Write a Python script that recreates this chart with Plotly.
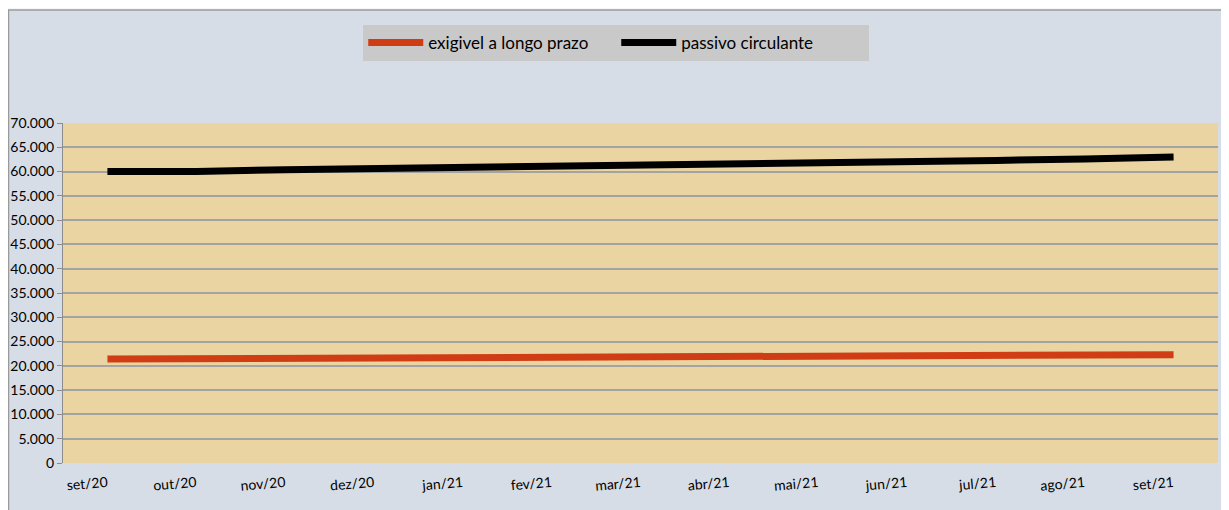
import plotly.graph_objects as go

categories = ["set/20", "out/20", "nov/20", "dez/20", "jan/21", "fev/21", "mar/21",
              "abr/21", "mai/21", "jun/21", "jul/21", "ago/21", "set/21"]
exigivel_longo_prazo = [21400, 21450, 21500, 21550, 21600, 21650, 21700,
                        21780, 21850, 21950, 22050, 22150, 22300]
passivo_circulante = [60000, 60000, 60400, 60600, 60800, 61000, 61200,
                      61600, 61800, 62000, 62300, 62600, 63000]

font_family = "Lato, Noto Sans, sans-serif"

fig = go.Figure()
fig.add_trace(go.Scatter(x=categories, y=exigivel_longo_prazo, mode="lines",
                         name="exigivel a longo prazo",
                         line=dict(color="#D03C14", width=7)))
fig.add_trace(go.Scatter(x=categories, y=passivo_circulante, mode="lines",
                         name="passivo circulante",
                         line=dict(color="#000000", width=7)))

fig.update_layout(
    width=1229, height=510,
    paper_bgcolor="#F4F6F8",
    plot_bgcolor="rgba(0,0,0,0)",
    separators=",.",
    margin=dict(l=55, r=19, t=115, b=55, autoexpand=False),
    font=dict(family=font_family, size=14, color="#000000"),
    legend=dict(orientation="h", x=0.479, xanchor="center", y=0.967, yanchor="top",
                yref="container", bgcolor="#C9C9C9",
                font=dict(size=17, family=font_family),
                itemwidth=55, entrywidth=183,
                borderwidth=0),
    showlegend=True,
)
fig.update_xaxes(type="category", range=[-0.5, 12.5], showgrid=False,
                 ticks="outside", ticklen=6, tickcolor="rgba(0,0,0,0)",
                 tickangle=-5, automargin=False,
                 tickfont=dict(size=14), showline=False, zeroline=False)
fig.update_yaxes(range=[0, 70000], dtick=5000, tickformat=",.0f",
                 showgrid=True, gridcolor="#A3A3A3", gridwidth=1.5,
                 ticks="outside", ticklen=5, tickcolor="#8C8C8C",
                 showline=True, linecolor="#8C8C8C", linewidth=1,
                 automargin=False,
                 zeroline=False, tickfont=dict(size=14))
# outer chart area with border
fig.add_shape(type="rect", xref="paper", yref="paper",
              x0=-54.5 / 1155, x1=1.0 + 14.5 / 1155, y0=-60 / 340, y1=1.0 + 113 / 340,
              line=dict(color="#9A9A9A", width=1.5), fillcolor="#D6DDE7",
              layer="below")
# papyrus-toned plot area
fig.add_shape(type="rect", xref="paper", yref="paper",
              x0=0, x1=1, y0=0, y1=1,
              line=dict(width=0), fillcolor="#EAD5A2",
              layer="below")

fig.write_html("out.html")
